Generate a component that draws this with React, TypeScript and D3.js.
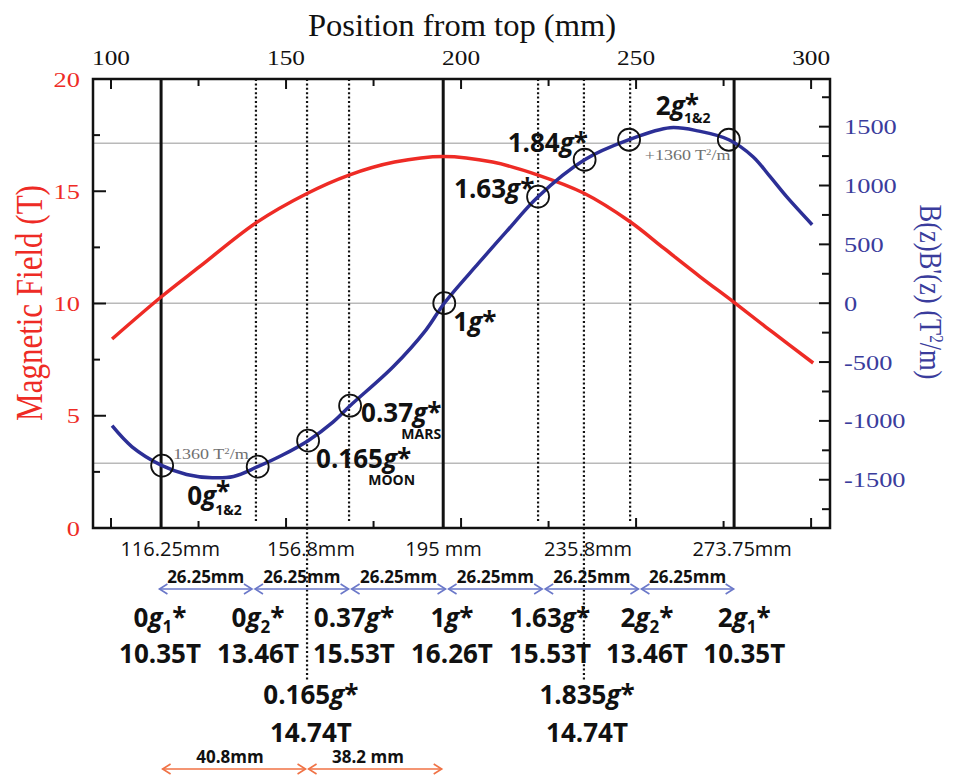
import * as d3 from 'd3';
import React from 'react';

// magnetic field B(z) along the bore
const fieldMM = [100.3, 114.3, 125.4, 141.4, 156, 168, 181, 195, 209, 222, 235, 248.3, 258, 268.3, 278, 289, 300.6];
const fieldT = [8.42, 10.29, 11.65, 13.59, 14.9, 15.72, 16.3, 16.55, 16.3, 15.72, 14.92, 13.64, 12.45, 11.19, 10.05, 8.72, 7.35];

// B(z)B'(z) along the bore
const gradMM = [100.3, 106, 114.6, 121.6, 128.9, 135, 141.9, 149, 156.3, 163.4, 168.3, 180.6, 190, 195.2, 205, 213, 222, 235.3, 248, 259.7, 268, 276.5, 283.4, 288.3, 293, 300.3];
const gradVal = [-1041, -1220, -1380, -1455, -1483, -1472, -1389, -1290, -1168, -1010, -871, -540, -226, 0, 340, 610, 905, 1219, 1389, 1491, 1462, 1389, 1245, 1075, 905, 667];

// vertical guide lines
const guideMM = [114.3, 141.4, 156, 168, 194.9, 222, 235.1, 248.3, 278];
const guideSolid = [true, false, false, false, true, false, false, false, true];
const guideLong = [false, false, true, false, false, false, true, false, false];

// circled points on the blue curve
const circleMM = [114.6, 141.9, 156.3, 168.3, 195.2, 222, 235.3, 248, 276.5];
const circleVal = [-1380, -1389, -1168, -871, 0, 905, 1219, 1389, 1389];

// axes
const xTicks = [100, 125, 150, 175, 200, 225, 250, 275, 300];
const xTickLabels = [100, 150, 200, 250, 300];
const leftTicks = [2.5, 5, 7.5, 10, 12.5, 15, 17.5];
const leftTickLabels = [0, 5, 10, 15, 20];
const rightTicks = [-1750, -1500, -1250, -1000, -750, -500, -250, 0, 250, 500, 750, 1000, 1250, 1500, 1750];
const rightTickLabels = [1500, 1000, 500, 0, -500, -1000, -1500];
const refLines = [-1360, 0, 1360];

// labels below the plot
const posLabels = ['116.25mm', '156.8mm', '195 mm', '235.8mm', '273.75mm'];
const posLabelMM = [116.9, 157.1, 195, 236.3, 280.3];
const spanLabel = '26.25mm';
const spanMM = [113.4, 140.7, 168.3, 196, 223.6, 251.1, 278.3];
const gFactor = ['0', '0', '0.37', '1', '1.63', '2', '2'];
const gSub = ['1', '2', '', '', '', '2', '1'];
const gField = ['10.35T', '13.46T', '15.53T', '16.26T', '15.53T', '13.46T', '10.35T'];
const gLabelMM = [114, 142, 169.4, 197.4, 225.4, 253.1, 280.9];
const extraFactor = ['0.165', '1.835'];
const extraField = ['14.74T', '14.74T'];
const extraMM = [157.1, 236];
const orangeLabels = ['40.8mm', '38.2 mm'];
const orangeMM = [114.3, 156, 194.9];
const orangeLabelMM = [134, 173.4];

const RED = '#ee2b25';
const BLUE = '#2c2f96';
const AXBLUE = '#3a3c9c';
const ARROWBLUE = '#6b78c9';
const ORANGE = '#f07245';
const INK = '#111';
const SERIF = '"Liberation Serif", "Times New Roman", serif';
const SANS = '"Open Sans", "Liberation Sans", sans-serif';

const left = 93, right = 830, top = 79, bottom = 528;
// the serif lettering in the figure is a little wider than it is tall
const STRETCH = 1.2;

function Arrow({ x1, x2, y, color }: { x1: number; x2: number; y: number; color: string }) {
  const h = 8, w = 5;
  return (
    <g stroke={color} strokeWidth={1.6} fill="none">
      <line x1={x1} x2={x2} y1={y} y2={y} />
      <path d={`M${x1 + h},${y - w}L${x1},${y}L${x1 + h},${y + w}`} />
      <path d={`M${x2 - h},${y - w}L${x2},${y}L${x2 - h},${y + w}`} />
    </g>
  );
}

export default function App() {
  const x = d3.scaleLinear().domain([94.85, 305.4]).range([left, right]);
  const yL = d3.scaleLinear().domain([0, 20]).range([bottom, top]);
  const yR = d3.scaleLinear().domain([-1910, 1905]).range([bottom, top]);

  const fieldLine = d3
    .line<number>()
    .x((d) => x(d))
    .y((_, i) => yL(fieldT[i]))
    .curve(d3.curveCatmullRom.alpha(0.5));
  const gradLine = d3
    .line<number>()
    .x((d) => x(d))
    .y((_, i) => yR(gradVal[i]))
    .curve(d3.curveCatmullRom.alpha(0.5));

  const cx = circleMM.map((d) => x(d));
  const cy = circleVal.map((d) => yR(d));

  const big = { fontFamily: SANS, fontWeight: 700, fontSize: 26, fill: INK };
  const at = (px: number, py: number, s = STRETCH) => `translate(${px},${py}) scale(${s},1)`;

  return (
    <svg width={954} height={776} style={{ position: 'absolute', left: 0, top: 0, background: '#fff' }}>
      {/* reference lines */}
      {refLines.map((v) => (
        <line key={v} x1={left} x2={right} y1={yR(v)} y2={yR(v)} stroke="#b9b9b9" strokeWidth={1.5} />
      ))}

      {/* guides */}
      {guideMM.map((m, i) => (
        <line
          key={m}
          x1={x(m)}
          x2={x(m)}
          y1={top}
          y2={guideLong[i] ? 680 : guideSolid[i] ? bottom : bottom - 6}
          stroke={INK}
          strokeWidth={guideSolid[i] ? 3 : 2.2}
          strokeDasharray={guideSolid[i] ? undefined : '2,2.4'}
        />
      ))}

      {/* curves */}
      <path d={fieldLine(fieldMM) || ''} fill="none" stroke={RED} strokeWidth={3.5} />
      <path d={gradLine(gradMM) || ''} fill="none" stroke={BLUE} strokeWidth={3.5} />

      {cx.map((c, i) => (
        <circle key={i} cx={c} cy={cy[i]} r={11} fill="none" stroke={INK} strokeWidth={1.8} />
      ))}

      {/* frame and ticks */}
      <rect x={left} y={top} width={right - left} height={bottom - top} fill="none" stroke={INK} strokeWidth={2.5} />
      <g stroke={INK} strokeWidth={2}>
        {xTicks.map((t) => {
          const len = t % 50 === 0 ? 10 : 7;
          return (
            <g key={t}>
              <line x1={x(t)} x2={x(t)} y1={top} y2={top + len} />
              <line x1={x(t)} x2={x(t)} y1={bottom} y2={bottom - len} />
            </g>
          );
        })}
        {leftTicks.map((t) => (
          <line key={t} x1={left} x2={left + (t % 5 === 0 ? 13 : 7)} y1={yL(t)} y2={yL(t)} />
        ))}
        {rightTicks.map((t) => (
          <line key={t} x1={right} x2={right - (t % 500 === 0 ? 11 : 8)} y1={yR(t)} y2={yR(t)} />
        ))}
      </g>

      {/* tick labels */}
      {xTickLabels.map((t) => (
        <text key={t} transform={at(x(t), 65, 1.15)} textAnchor="middle" fontFamily={SERIF} fontSize={22} fill={INK}>
          {t}
        </text>
      ))}
      {leftTickLabels.map((t) => (
        <text key={t} transform={at(80, yL(t) + 7.5)} textAnchor="end" fontFamily={SERIF} fontSize={22} fill={RED}>
          {t}
        </text>
      ))}
      {rightTickLabels.map((t) => (
        <text key={t} transform={at(844, yR(t) + 7.5)} fontFamily={SERIF} fontSize={22} fill={AXBLUE}>
          {t}
        </text>
      ))}

      {/* axis titles */}
      <text transform={at(462, 36, 1.05)} textAnchor="middle" fontFamily={SERIF} fontSize={31} fill={INK}>
        Position from top (mm)
      </text>
      <text transform={`${at(42, 303)} rotate(-90)`} textAnchor="middle" fontFamily={SERIF} fontSize={31} fill={RED}>
        Magnetic Field (T)
      </text>
      <text transform={`${at(920, 292)} rotate(90)`} textAnchor="middle" fontFamily={SERIF} fontSize={26.5} fill={AXBLUE}>
        B(z)B'(z) (T
        <tspan baselineShift="super" fontSize={15}>2</tspan>
        /m)
      </text>

      {/* in-plot annotations */}
      <text transform={at(cx[0] + 11, cy[0] - 7)} fontFamily={SERIF} fontSize={15} fill="#707070">
        1360 T<tspan baselineShift="super" fontSize={9}>2</tspan>/m
      </text>
      <text transform={at(cx[8] - 84, cy[8] + 20)} fontFamily={SERIF} fontSize={15} fill="#707070">
        +1360 T<tspan baselineShift="super" fontSize={9}>2</tspan>/m
      </text>

      <text x={cx[0] + 25} y={cy[0] + 39} {...big}>
        0<tspan fontStyle="italic">g</tspan>
        <tspan dx={0} dy={-4}>*</tspan>
        <tspan dx={-15} dy={14} fontSize={14}>1&amp;2</tspan>
      </text>

      <text {...big}>
        <tspan x={cx[2] + 8} y={cy[2] + 27}>
          0.165<tspan fontStyle="italic">g</tspan>*
        </tspan>
        <tspan x={cx[2] + 107} y={cy[2] + 44} textAnchor="end" fontSize={14}>
          MOON
        </tspan>
      </text>

      <text {...big}>
        <tspan x={cx[3] + 11} y={cy[3] + 16}>
          0.37<tspan fontStyle="italic">g</tspan>*
        </tspan>
        <tspan x={cx[3] + 91} y={cy[3] + 33} textAnchor="end" fontSize={14}>
          MARS
        </tspan>
      </text>

      <text x={cx[4] + 9} y={cy[4] + 28} {...big}>
        1<tspan fontStyle="italic">g</tspan>*
      </text>
      <text x={cx[5] - 84} y={cy[5] + 1} {...big}>
        1.63<tspan fontStyle="italic">g</tspan>*
      </text>
      <text x={cx[6] - 77} y={cy[6] - 8} {...big}>
        1.84<tspan fontStyle="italic">g</tspan>*
      </text>
      <text x={cx[8] - 73} y={cy[8] - 25} {...big}>
        2<tspan fontStyle="italic">g</tspan>
        <tspan dx={0} dy={-1}>*</tspan>
        <tspan dx={-15} dy={9} fontSize={14}>1&amp;2</tspan>
      </text>

      {/* position labels */}
      {posLabels.map((t, i) => (
        <text key={t} x={x(posLabelMM[i])} y={556} textAnchor="middle" fontFamily={SANS} fontSize={20} fill={INK}>
          {t}
        </text>
      ))}

      {/* 26.25 mm spans */}
      {spanMM.slice(1).map((m, i) => {
        const a = x(spanMM[i]) + 1.5;
        const b = x(m) - 1.5;
        return (
          <g key={m}>
            <Arrow x1={a} x2={b} y={589} color={ARROWBLUE} />
            <text x={(a + b) / 2} y={583} textAnchor="middle" fontFamily={SANS} fontWeight={700} fontSize={17} fill={INK}>
              {spanLabel}
            </text>
          </g>
        );
      })}

      {/* gravity levels */}
      {gFactor.map((f, i) => (
        <g key={i}>
          <text x={x(gLabelMM[i])} y={627} textAnchor="middle" {...big}>
            {f}
            <tspan fontStyle="italic">g</tspan>
            {gSub[i] ? (
              <>
                <tspan fontSize={17} dy={6}>{gSub[i]}</tspan>
                <tspan dy={-6}>*</tspan>
              </>
            ) : (
              '*'
            )}
          </text>
          <text x={x(gLabelMM[i])} y={663} textAnchor="middle" {...big}>
            {gField[i]}
          </text>
        </g>
      ))}
      {extraFactor.map((f, i) => (
        <g key={f}>
          <text x={x(extraMM[i])} y={704} textAnchor="middle" {...big}>
            {f}
            <tspan fontStyle="italic">g</tspan>*
          </text>
          <text x={x(extraMM[i])} y={742} textAnchor="middle" {...big}>
            {extraField[i]}
          </text>
        </g>
      ))}

      {/* moon / mars distances */}
      {orangeLabels.map((t, i) => (
        <g key={t}>
          <Arrow x1={x(orangeMM[i]) + 1.5} x2={x(orangeMM[i + 1]) - 1.5} y={769} color={ORANGE} />
          <text x={x(orangeLabelMM[i])} y={763} textAnchor="middle" fontFamily={SANS} fontWeight={700} fontSize={17} fill={INK}>
            {t}
          </text>
        </g>
      ))}
    </svg>
  );
}
